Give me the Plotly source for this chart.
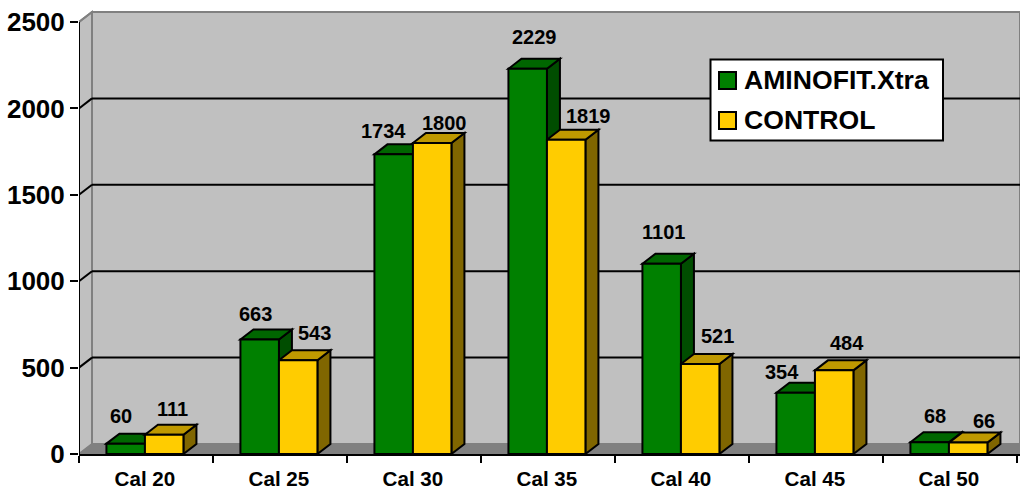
import plotly.graph_objects as go

categories = ["Cal 20", "Cal 25", "Cal 30", "Cal 35", "Cal 40", "Cal 45", "Cal 50"]
aminofit = [60, 663, 1734, 2229, 1101, 354, 68]
control = [111, 543, 1800, 1819, 521, 484, 66]
y_ticks = [0, 500, 1000, 1500, 2000, 2500]

# label nudges in pixels (dx, dy above bar top)
aminofit_nudge = [(-4.5, 28), (-4.5, 25), (-10.5, 23), (6.5, 32), (1.5, 32), (-13.5, 21), (5.5, 26)]
control_nudge = [(8.5, 26), (16.5, 27), (12.5, 20), (22.5, 24), (17.5, 28), (12.5, 27), (15.5, 22)]

W, H = 1020, 489
L, R, T, B = 79, 0, 8, 35
PX_X = 134.0
PX_Y = 432 / 2500
xmax = (W - L - R) / PX_X
ymax = (H - T - B) / PX_Y
DX = 13 / PX_X
DY = 10 / PX_Y
BW = 38.5 / PX_X

FONT = "Liberation Sans, Arial, sans-serif"
GREEN, GREEN_TOP, GREEN_SIDE = "#008000", "#006600", "#004D00"
YELLOW, YELLOW_TOP, YELLOW_SIDE = "#FFCC00", "#BF9900", "#806600"
WALL, FLOOR = "#C0C0C0", "#808080"

xs = [i + 0.492 for i in range(len(categories))]


def poly(points, fill, line="black", width=2):
    path = "M" + "L".join(f"{x},{y}" for x, y in points) + "Z"
    return dict(type="path", path=path, xref="x", yref="y", layer="below",
                fillcolor=fill, line=dict(color=line, width=width))


def seg(x0, y0, x1, y1, color="black", width=2):
    return dict(type="line", x0=x0, y0=y0, x1=x1, y1=y1, xref="x", yref="y",
                layer="below", line=dict(color=color, width=width))


shapes = [
    poly([(DX, DY), (xmax, DY), (xmax, 2500 + DY), (DX, 2500 + DY)], WALL, FLOOR, 2),
    poly([(0, 0), (DX, DY), (DX, 2500 + DY), (0, 2500)], WALL, FLOOR, 2),
    poly([(0, 0), (DX, DY), (xmax, DY), (xmax, 0)], FLOOR, FLOOR, 1),
]
for t in y_ticks[1:-1]:
    shapes.append(seg(0, t, DX, t + DY))
    shapes.append(seg(DX, t + DY, xmax, t + DY))
shapes.append(seg(0, 2500, DX, 2500 + DY, FLOOR))


def faces(x0, v, top, side):
    x1 = x0 + BW
    return [
        poly([(x1, 0), (x1 + DX, DY), (x1 + DX, v + DY), (x1, v)], side),
        poly([(x0, v), (x0 + DX, v + DY), (x1 + DX, v + DY), (x1, v)], top),
    ]


for x, v in zip(xs, aminofit):
    shapes += faces(x - BW, v, GREEN_TOP, GREEN_SIDE)
for x, v in zip(xs, control):
    shapes += faces(x, v, YELLOW_TOP, YELLOW_SIDE)


def px_x(p):
    return p / W


def px_y(p):
    return 1 - p / H


def page_rect(x0, y0, x1, y1, fill, width):
    # legend pieces placed on the page rather than in data space
    return dict(type="rect", xref="paper", yref="paper", layer="above",
                x0=(x0 - L) / (W - L), x1=(x1 - L) / (W - L),
                y0=(H - B - y1) / (H - T - B), y1=(H - B - y0) / (H - T - B),
                fillcolor=fill, line=dict(color="black", width=width))


shapes.append(page_rect(710.5, 59.5, 943, 140.5, "white", 2))
shapes.append(page_rect(719, 72, 736, 89, GREEN, 2))
shapes.append(page_rect(719, 112, 736, 129, YELLOW, 2))

fig = go.Figure()
for name, vals, col in [("AMINOFIT.Xtra", aminofit, GREEN), ("CONTROL", control, YELLOW)]:
    fig.add_trace(go.Bar(x=xs, y=vals, name=name, width=BW, showlegend=False,
                         offset=-BW if col == GREEN else 0,
                         marker=dict(color=col, line=dict(color="black", width=2))))

fig.add_trace(go.Scatter(x=[0, 0], y=[0, 2500], mode="lines", showlegend=False, cliponaxis=False,
                         hoverinfo="skip", line=dict(color="black", width=2)))

annotations = []
for x, vals, nudges, sign in [(xs, aminofit, aminofit_nudge, -0.5), (xs, control, control_nudge, 0.5)]:
    for xi, v, (nx, ny) in zip(x, vals, nudges):
        annotations.append(dict(x=xi + sign * BW, y=v, text=f"<b>{v}</b>", showarrow=False,
                                xshift=nx, yshift=ny, xanchor="center", yanchor="middle",
                                font=dict(family=FONT, size=20, color="black")))

for name, cy in [("AMINOFIT.Xtra", 80), ("CONTROL", 120)]:
    annotations.append(dict(xref="paper", yref="paper", x=(743 - L) / (W - L),
                            y=(H - B - cy) / (H - T - B), text=f"<b>{name}</b>", showarrow=False,
                            xanchor="left", yanchor="middle", borderpad=0,
                            font=dict(family=FONT, size=26.6, color="black")))

fig.update_layout(
    width=W, height=H, margin=dict(l=L, r=R, t=T, b=B, autoexpand=False),
    paper_bgcolor="white", plot_bgcolor="white", barmode="overlay",
    shapes=shapes, annotations=annotations, showlegend=False,
    font=dict(family=FONT, color="black"),
    xaxis=dict(range=[0, xmax], tickmode="array", tickvals=xs, ticktext=categories,
               ticks="", showgrid=False, zeroline=False, showline=True, linecolor="black", linewidth=2,
               tickfont=dict(family=FONT, size=20.6, color="black", weight="bold"),
               ticklabelstandoff=5,
               minor=dict(tickmode="array", tickvals=list(range(len(categories) + 1)), ticks="outside",
                          ticklen=7, tickwidth=2, tickcolor="black", showgrid=False)),
    yaxis=dict(range=[0, ymax], tickmode="array", tickvals=y_ticks, ticks="outside", ticklen=8,
               tickwidth=2, tickcolor="black", showgrid=False, zeroline=False, showline=False,
               tickfont=dict(family=FONT, size=26, color="black", weight="bold")),
)

fig.write_html("out.html", config={"displayModeBar": False}, post_script="document.body.style.margin='0';")
